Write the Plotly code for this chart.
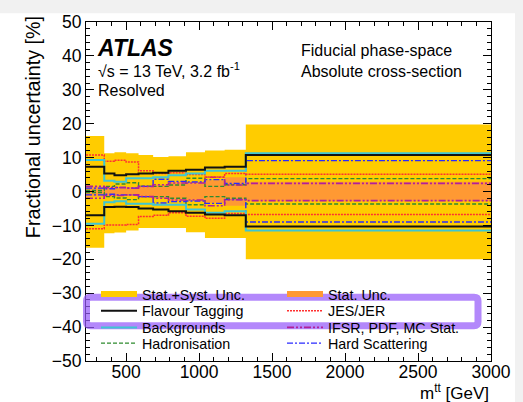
import numpy as np
import plotly.graph_objects as go

# ---------------- data ----------------
edges = [225, 350, 420, 500, 585, 685, 790, 910, 1040, 1175, 1320, 3000]

tot_up   = [16.4, 11.3, 11.6, 11.3, 10.8, 10.2, 10.4, 11.6, 12.1, 12.3, 19.8]
tot_down = [16.6, 12.3, 12.1, 11.5, 10.8, 10.8, 10.8, 12.0, 13.7, 13.7, 20.0]
stat     = [1.5, 1.3, 1.3, 1.3, 1.5, 2.0, 2.8, 2.6, 3.3, 4.2, 2.9]

ftag_up   = [7.3, 5.3, 4.8, 5.1, 5.3, 5.5, 6.1, 6.4, 7.1, 7.3, 10.8]
ftag_down = [-7.0, -4.6, -4.5, -4.6, -5.0, -5.3, -5.8, -6.3, -6.8, -7.0, -10.3]
bkg_up    = [9.3, 3.2, 2.9, 3.9, 3.9, 4.2, 4.8, 5.3, 6.1, 6.1, 11.3]
bkg_down  = [-9.5, -3.2, -2.9, -3.6, -3.6, -3.9, -3.9, -5.3, -6.3, -5.8, -11.5]
jes_up    = [10.8, 8.9, 9.2, 8.7, 6.1, 5.3, 5.5, 5.0, 4.3, 5.3, 5.1]
jes_down  = [-11.0, -9.9, -9.9, -9.7, -7.4, -7.0, -6.3, -7.3, -7.9, -6.5, -6.8]
had_up    = [0.3, 1.5, 2.2, 2.6, 1.6, 1.5, 1.9, 3.9, 1.5, 2.0, 3.8]
had_down  = [-0.3, -1.5, -1.9, -2.4, -1.5, -1.5, -2.0, -3.9, -1.5, -2.0, -3.7]
ifsr_up   = [1.5, 1.2, 1.2, 1.0, 1.5, 2.0, 2.5, 2.5, 4.2, 1.9, 2.4]
ifsr_down = [-2.0, -1.2, -1.2, -1.0, -1.5, -2.0, -2.5, -2.5, -4.2, -2.4, -2.7]
hs_up     = [1.0, 0.8, 1.2, 1.0, 1.5, 3.6, 3.0, 2.8, 3.5, 2.4, 9.1]
hs_down   = [-1.0, -0.8, -1.0, -1.0, -1.5, -3.4, -3.0, -2.8, -3.5, -2.4, -9.0]

x_ticks = [500, 1000, 1500, 2000, 2500, 3000]
y_ticks = [-50, -40, -30, -20, -10, 0, 10, 20, 30, 40, 50]

FONT = "Liberation Sans, Arial, sans-serif"

def band_polygon(up, down):
    e = np.array(edges, dtype=float)
    xs_up = np.repeat(e, 2)[1:-1]
    ys_up = np.repeat(np.array(up, dtype=float), 2)
    xs_dn = xs_up[::-1]
    ys_dn = -np.repeat(np.array(down, dtype=float), 2)[::-1]
    return np.concatenate([xs_up, xs_dn, xs_up[:1]]), np.concatenate([ys_up, ys_dn, ys_up[:1]])

fig = go.Figure()

# bands
bx, by = band_polygon(tot_up, tot_down)
fig.add_trace(go.Scatter(x=bx, y=by, fill="toself", fillcolor="#ffcc00", mode="none",
                         name="Stat.+Syst. Unc.", legend="legend"))
sx, sy = band_polygon(stat, stat)
fig.add_trace(go.Scatter(x=sx, y=sy, fill="toself", fillcolor="#ff9933", mode="none",
                         name="Stat. Unc.", legend="legend2"))

def step(vals):
    return list(vals) + [vals[-1]]

lines = [
    ("Hadronisation", had_up, had_down, dict(color="#2e8b2e", width=1.4, dash="4px,2px"), "legend7"),
    ("Hard Scattering", hs_up, hs_down, dict(color="#2a2aff", width=1.4, dash="6px,2px,2px,2px"), "legend8"),
    ("IFSR, PDF, MC Stat.", ifsr_up, ifsr_down, dict(color="#b0209a", width=1.6, dash="7px,2px,2px,2px,2px,2px"), "legend6"),
    ("JES/JER", jes_up, jes_down, dict(color="#ff3030", width=1.5, dash="2px,1px"), "legend4"),
    ("Backgrounds", bkg_up, bkg_down, dict(color="#3fc6d2", width=2), "legend5"),
    ("Flavour Tagging", ftag_up, ftag_down, dict(color="#111111", width=2), "legend3"),
]
for name, up, dn, ln, leg in lines:
    fig.add_trace(go.Scatter(x=edges, y=step(up), mode="lines", line=dict(shape="hv", **ln),
                             name=name, legendgroup=name, legend=leg))
    fig.add_trace(go.Scatter(x=edges, y=step(dn), mode="lines", line=dict(shape="hv", **ln),
                             name=name, legendgroup=name, legend=leg, showlegend=False))

axis_common = dict(showline=True, linecolor="black", linewidth=1, mirror="ticks",
                   ticks="inside", tickcolor="black", showgrid=False, zeroline=False,
                   tickfont=dict(family=FONT, size=17.5, color="black"))
fig.update_xaxes(range=[225, 3000], tickvals=x_ticks, ticklen=8, ticklabelstandoff=-5,
                 minor=dict(dtick=100, tick0=0, ticklen=4, ticks="inside", tickcolor="black"),
                 **axis_common)
fig.update_yaxes(range=[-50, 50], tickvals=y_ticks, ticklen=8,
                 ticktext=[str(v).replace("-", "\u2212") for v in y_ticks],
                 minor=dict(dtick=2, tick0=0, ticklen=4, ticks="inside", tickcolor="black"),
                 **axis_common)

def py(p):
    return (361 - p) / 345.0
def pxp(p):
    return (p - 86) / 405.0

leg_common = dict(orientation="v", bgcolor="rgba(0,0,0,0)", borderwidth=0,
                  font=dict(family=FONT, size=14.3, color="black"), itemwidth=36,
                  xanchor="left", yanchor="middle")
rows_y = [293, 310, 327, 343]
cols_x = [96, 282]
legends = {}
for i in range(8):
    key = "legend" if i == 0 else f"legend{i + 1}"
    legends[key] = dict(x=pxp(cols_x[i % 2]), y=py(rows_y[i // 2]), **leg_common)
fig.update_layout(**legends)

def ann(text, x, y, size, **kw):
    fig.add_annotation(text=text, xref="paper", yref="paper", x=pxp(x), y=py(y),
                       xanchor="left", yanchor="middle", showarrow=False,
                       font=dict(family=FONT, size=size, color="black"), **kw)

ann("<b><i>ATLAS</i></b>", 95, 42, 23)
ann("\u221as = 13 TeV, 3.2 fb<sup>-1</sup>", 96, 65, 16)
ann("Resolved", 96, 86, 16)
ann("Fiducial phase-space", 299, 45, 16)
ann("Absolute cross-section", 299, 66, 16)

fig.add_annotation(text="Fractional uncertainty [%]", xref="paper", yref="paper",
                   x=pxp(33), y=py(123), xanchor="center", yanchor="middle",
                   textangle=-90, showarrow=False,
                   font=dict(family=FONT, size=19.7, color="black"))
fig.add_annotation(text="m<sup>tt</sup> [GeV]", xref="paper", yref="paper",
                   x=1.0, y=py(393), xanchor="right", yanchor="middle", showarrow=False,
                   font=dict(family=FONT, size=17, color="black"))

# highlight box around legend rows
x0, x1 = pxp(86.5), pxp(478)
y0, y1 = py(296), py(325)
rx, ry = 4 / 405.0, 4 / 345.0
path = (f"M {x0+rx},{y0} L {x1-rx},{y0} Q {x1},{y0} {x1},{y0-ry} L {x1},{y1+ry} "
        f"Q {x1},{y1} {x1-rx},{y1} L {x0+rx},{y1} Q {x0},{y1} {x0},{y1+ry} "
        f"L {x0},{y0-ry} Q {x0},{y0} {x0+rx},{y0} Z")
fig.add_shape(type="path", path=path, xref="paper", yref="paper",
              line=dict(color="rgba(150,90,250,0.72)", width=7), layer="above")

# light-grey page border strips (screenshot background)
fig.add_shape(type="rect", xref="paper", yref="paper", x0=-0.5, x1=1.5, y0=py(7), y1=py(-10),
              line=dict(width=0), fillcolor="#f1f1f1", layer="below")
fig.add_shape(type="rect", xref="paper", yref="paper", x0=pxp(515), x1=1.5, y0=py(420), y1=py(-10),
              line=dict(width=0), fillcolor="#f1f1f1", layer="below")

fig.update_layout(width=523, height=402, margin=dict(l=86, r=32, t=16, b=41),
                  paper_bgcolor="white", plot_bgcolor="white", showlegend=True)

fig.write_html("out.html")
